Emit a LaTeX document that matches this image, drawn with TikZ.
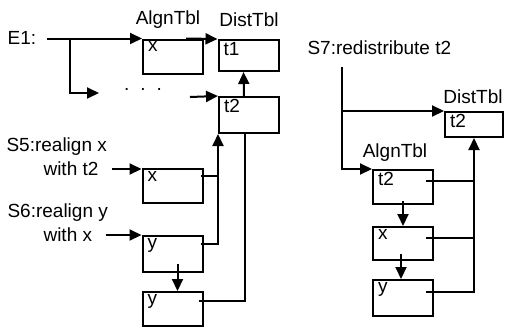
\documentclass[tikz,border=0pt]{standalone}
\usepackage{fontspec}
\setmainfont{Liberation Sans}
\usetikzlibrary{arrows.meta}

\begin{document}
\begin{tikzpicture}[x=1pt, y=-1pt,
        every node/.style={font=\fontsize{19}{21}\selectfont},
        tbl/.style={draw, line width=2pt, minimum width=60pt, minimum height=34pt, inner sep=0pt},
        cell/.style={tbl, label={[anchor=north west, inner xsep=6pt, inner ysep=3pt]north west:#1}},
        arr/.style={line width=2pt, -{Triangle[length=12pt,width=11pt]}},
        wire/.style={line width=2pt}]
        \useasboundingbox (0,0) rectangle (510,327);

        \node (e1) at (22,38) {E1:};
        \node (algA) at (168,20) {AlgnTbl};
        \node (distA) at (249,20) {DistTbl};
        \node[cell=x] (ax) at (173,56.5) {};
        \node[cell=t1, minimum height=31pt] (dt1) at (248.5,55.5) {};
        \node[cell=t2, minimum height=36pt] (dt2) at (249,115) {};
        \node (dots) at (143,89) {.\hspace{11pt}.\hspace{11pt}.};
        \coordinate (e1fork) at (70,40);
        \coordinate (e1end) at (99,93);
        \coordinate (dotsend) at (190,97);

        \draw[arr] ([xshift=7pt]e1.east |- ax.north west) -- (ax.north west);
        \draw[arr] (e1fork) |- (e1end);
        \draw[arr] (dotsend) -- (dt2.north west);
        \draw[arr] ([xshift=-18pt]ax.north east) -- (dt1.north west);
        \draw[arr] ([xshift=-5pt]dt2.north) -- ([xshift=-5pt]dt1.south);

        \node[anchor=west] (s5a) at (3,147) {S5:realign x};
        \node[anchor=west] (s5b) at (40,169) {with t2};
        \node[anchor=west] (s6a) at (4,213) {S6:realign y};
        \node[anchor=west] (s6b) at (40,235) {with x};
        \node[cell=x] (sx) at (172.5,186) {};
        \node[cell=y, minimum height=36pt] (sy) at (172.5,254) {};
        \node[cell=y] (sy2) at (172.5,309) {};
        \coordinate (sxout) at ([shift={(-3,-10)}]sx.east);
        \coordinate (syout) at ([shift={(-3,-10)}]sy.east);
        \coordinate (sy2out) at ([shift={(-5,-8)}]sy2.east);

        \draw[arr] ([xshift=10pt]s5b.east) -- (s5b.east -| sx.west);
        \draw[arr] ([xshift=10pt]s6b.east) -- (s6b.east -| sy.west);
        \draw[arr] ([shift={(5,-9)}]sy.south) -- ([xshift=5pt]sy2.north);
        \draw[wire] (sxout) -- (sxout -| dt2.south west);
        \draw[arr] (syout) -| (dt2.south west);
        \draw[wire] (sy2out) -| ([xshift=-4pt]dt2.south);

        \node[anchor=west] (s7) at (304,48) {S7:redistribute t2};
        \node (distB) at (473,97) {DistTbl};
        \node[cell=t2, minimum width=58pt, minimum height=25pt] (dt2r) at (474,124.5) {};
        \node (algB) at (395,153) {AlgnTbl};
        \node[cell=t2] (at2) at (403,187) {};
        \node[cell=x, minimum height=33pt] (ax2) at (403,243.5) {};
        \node[cell=y, minimum height=36pt] (ay2) at (403,298) {};
        \coordinate (s7src) at (342,67);
        \coordinate (at2out) at ([shift={(-8,-6)}]at2.east);
        \coordinate (ax2out) at ([shift={(-8,-6)}]ax2.east);
        \coordinate (ay2out) at ([shift={(-8,-6)}]ay2.east);

        \draw[arr] (s7src) |- (at2.north west);
        \draw[arr] (s7src |- dt2r.north west) -- (dt2r.north west);
        \draw[arr] ([yshift=4pt]at2.south) -- (ax2.north);
        \draw[arr] ([shift={(-2,-7)}]ax2.south) -- ([xshift=-2pt]ay2.north);
        \draw[wire] (at2out) -- (at2out -| dt2r.south);
        \draw[wire] (ax2out) -- (ax2out -| dt2r.south);
        \draw[arr] (ay2out) -| (dt2r.south);
\end{tikzpicture}
\end{document}
